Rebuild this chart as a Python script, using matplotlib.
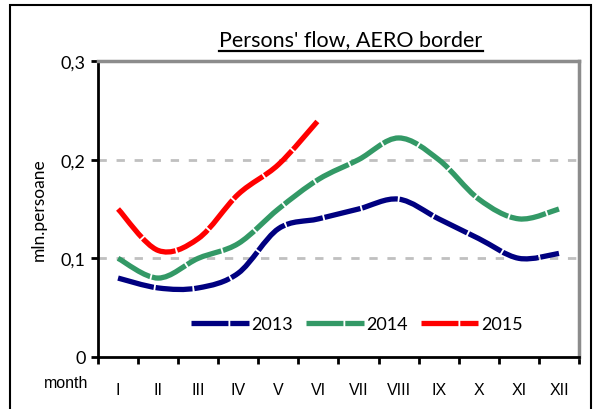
import matplotlib
matplotlib.use("Agg")
import matplotlib.pyplot as plt
from matplotlib.path import Path
from matplotlib.patches import PathPatch, Rectangle
from matplotlib.lines import Line2D
import numpy as np

months = ["I", "II", "III", "IV", "V", "VI", "VII", "VIII", "IX", "X", "XI", "XII"]
flow_2013 = [0.080, 0.070, 0.070, 0.085, 0.130, 0.140, 0.150, 0.160, 0.140, 0.120, 0.100, 0.105]
flow_2014 = [0.100, 0.080, 0.100, 0.115, 0.150, 0.180, 0.200, 0.222, 0.200, 0.160, 0.140, 0.150]
flow_2015 = [0.150, 0.108, 0.120, 0.165, 0.195, 0.240]
years = ["2013", "2014", "2015"]
colors = ["#000080", "#339966", "#ff0000"]

ui_font = "Lato"
dash = (0, (7, 0.35))
lw = 3.8


def smooth_path(xs, ys):
    # excel-like smoothed line: cubic bezier segments through the points
    p = np.column_stack([xs, ys]).astype(float)
    n = len(p)
    verts = [p[0]]
    codes = [Path.MOVETO]
    for i in range(n - 1):
        prev = p[i - 1] if i > 0 else p[i]
        nxt = p[i + 2] if i + 2 < n else p[i + 1]
        c1 = p[i] + (p[i + 1] - prev) / 6
        c2 = p[i + 1] - (nxt - p[i]) / 6
        verts += [c1, c2, p[i + 1]]
        codes += [Path.CURVE4] * 3
    return Path(verts, codes)


fig = plt.figure(figsize=(5.93, 4.10), dpi=100)
ax = fig.add_axes([98 / 593, 52 / 410, 481 / 593, 296 / 410])

x = np.arange(1, 13)
for vals, col in zip([flow_2013, flow_2014, flow_2015], colors):
    path = smooth_path(x[:len(vals)], vals)
    ax.add_patch(PathPatch(path, fill=False, edgecolor=col, lw=lw,
                           linestyle=dash, capstyle="butt", zorder=3))

ax.set_xlim(0.5, 12.5)
ax.set_ylim(0, 0.3)

ax.set_yticks([0, 0.1, 0.2, 0.3])
ax.set_yticklabels(["0", "0,1", "0,2", "0,3"], fontfamily=ui_font, fontsize=13)
ax.set_xticks(np.arange(0.5, 13, 1))
ax.set_xticklabels([])
ax.set_xticks(x, minor=True)
ax.set_xticklabels(months, minor=True, fontfamily="Liberation Sans", fontsize=11.5)
ax.tick_params(axis="x", which="major", direction="out", length=5, width=2)
ax.tick_params(axis="x", which="minor", length=0, pad=18)
ax.tick_params(axis="y", direction="out", length=5, width=2, pad=4)

for y in [0.1, 0.2]:
    ax.axhline(y, color="#c0c0c0", lw=2, ls=(0, (3, 3.5)), zorder=1)

for s in ["left", "bottom"]:
    ax.spines[s].set_linewidth(2)
    ax.spines[s].set_color("black")
for s in ["top", "right"]:
    ax.spines[s].set_linewidth(2.5)
    ax.spines[s].set_color("#8c8c8c")

ax.set_ylabel("mln.persoane", fontfamily=ui_font, fontsize=12.5, labelpad=10)

fig.text(66 / 593, (410 - 384) / 410, "month", ha="center", va="center",
         fontfamily="Liberation Sans", fontsize=11.5)

handles = [Line2D([], [], color=c, lw=lw, linestyle=dash) for c in colors]
fig.legend(handles, years, loc="center", bbox_to_anchor=(357 / 593, (410 - 325) / 410),
           ncol=3, frameon=False, handlelength=3.2, handletextpad=0.15,
           columnspacing=0.7, prop={"family": ui_font, "size": 13})

title = fig.text(351 / 593, (410 - 40) / 410, "Persons' flow, AERO border",
                 ha="center", va="center", fontfamily=ui_font, fontsize=15.5)

# page title above the frame, mostly cut off by the image edge
fig.text(310 / 593, (410 + 11) / 410, "The dynamic of persons' flow", ha="center",
         va="center", fontfamily="Liberation Serif", fontweight="bold", fontsize=17)

# outer frame of the chart
fig.patches.append(Rectangle((10 / 593, -0.1), 581 / 593, 1.1 - 6 / 410,
                             transform=fig.transFigure, fill=False,
                             edgecolor="black", lw=1.5, clip_on=False))

fig.canvas.draw()
bb = title.get_window_extent()
fig.add_artist(Line2D([bb.x0 / 593, bb.x1 / 593],
                      [(bb.y0 - 2) / 410, (bb.y0 - 2) / 410],
                      transform=fig.transFigure, color="black", lw=1.6))

fig.savefig("out.png", dpi=100)
